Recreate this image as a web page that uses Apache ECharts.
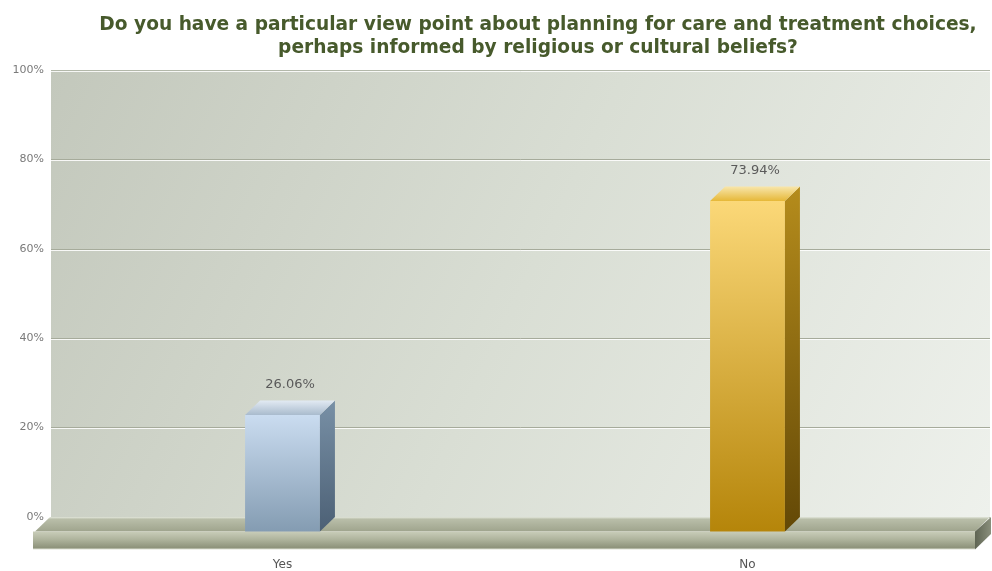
<!DOCTYPE html>
<html>
<head>
<meta charset="utf-8">
<script src="https://cdn.jsdelivr.net/npm/echarts@6/dist/echarts.min.js"></script>
<style>
  html, body { margin: 0; padding: 0; background: #ffffff; }
  #chart { width: 992px; height: 571px; }
</style>
</head>
<body>
<div id="chart"></div>
<script>
// Survey answers and their share of respondents (%)
const categories = ['Yes', 'No'];
const percentages = [26.06, 73.94];
const yTicks = [0, 20, 40, 60, 80, 100];

const titleText = 'Do you have a particular view point about planning for care and treatment choices,\nperhaps informed by religious or cultural beliefs?';

// Face colours for each bar: [front top, front bottom, side top, side bottom, top back, top front]
const barPalettes = [
  ['#cadcf0', '#849cb2', '#7890a6', '#4c6075', '#e2eaf3', '#a9bbcd'],
  ['#fbd878', '#b5850a', '#b58c1c', '#634806', '#f8e6ab', '#e6b838']
];

// Perspective depth of the 3D boxes (px)
const DEPTH_X = 15;
const DEPTH_Y = 14.5;

function vGrad(c0, c1) {
  return new echarts.graphic.LinearGradient(0, 0, 0, 1, [
    { offset: 0, color: c0 }, { offset: 1, color: c1 }
  ]);
}

function renderBox(params, api) {
  const idx = params.dataIndex;
  const val = api.value(1);
  const top = api.coord([api.value(0), val]);
  const base = api.coord([api.value(0), 0]);
  const band = api.size([1, 0])[0];
  const w = band * 0.161;
  const x0 = top[0] - w / 2;
  const x1 = top[0] + w / 2;
  const yT = top[1];
  const yB = base[1];
  const p = barPalettes[idx % barPalettes.length];
  return {
    type: 'group',
    children: [
      { // front face
        type: 'rect',
        shape: { x: x0, y: yT, width: w, height: yB - yT },
        style: { fill: vGrad(p[0], p[1]) }
      },
      { // side face
        type: 'polygon',
        shape: { points: [[x1, yT], [x1 + DEPTH_X, yT - DEPTH_Y], [x1 + DEPTH_X, yB - DEPTH_Y], [x1, yB]] },
        style: { fill: vGrad(p[2], p[3]) }
      },
      { // top face
        type: 'polygon',
        shape: { points: [[x0, yT], [x0 + DEPTH_X, yT - DEPTH_Y], [x1 + DEPTH_X, yT - DEPTH_Y], [x1, yT]] },
        style: { fill: vGrad(p[4], p[5]) }
      },
      { // value label
        type: 'text',
        style: {
          x: top[0] + DEPTH_X / 2,
          y: yT - DEPTH_Y - 9,
          text: val.toFixed(2) + '%',
          fill: '#5a5a5a',
          font: '13px "DejaVu Sans"',
          align: 'center',
          verticalAlign: 'bottom'
        }
      }
    ]
  };
}

const chart = echarts.init(document.getElementById('chart'), null, { renderer: 'canvas' });

const option = {
  backgroundColor: '#ffffff',
  animation: false,
  title: {
    text: titleText,
    left: 533,
    top: 9,
    textAlign: 'center',
    textStyle: {
      fontFamily: 'DejaVu Sans',
      fontWeight: 'bold',
      fontSize: 18.6,
      lineHeight: 23,
      color: '#475a2c'
    }
  },
  grid: [
    { // back wall
      left: 51, right: 2, top: 70, bottom: 54,
      show: true, borderWidth: 0,
      backgroundColor: new echarts.graphic.LinearGradient(0, 0, 1, 1, [
        { offset: 0, color: '#c3c8bc' },
        { offset: 0.5, color: '#d9ded4' },
        { offset: 1, color: '#eef1ec' }
      ])
    },
    { // front plane where the boxes stand
      left: 50, right: 12, top: 84.5, bottom: 39.5
    }
  ],
  xAxis: [
    {
      gridIndex: 0, type: 'category', data: categories,
      show: false
    },
    {
      gridIndex: 1, type: 'category', data: categories,
      axisLine: { show: false }, axisTick: { show: false },
      axisLabel: { margin: 27, color: '#555555', fontFamily: 'DejaVu Sans', fontSize: 12 }
    }
  ],
  yAxis: [
    {
      gridIndex: 0, type: 'value', min: 0, max: 100, interval: 20,
      axisLine: { show: false }, axisTick: { show: false },
      axisLabel: {
        margin: 7, color: '#7a7a7a', fontFamily: 'DejaVu Sans', fontSize: 11,
        formatter: v => (yTicks.indexOf(v) >= 0 ? v + '%' : '')
      },
      splitLine: {
        show: true,
        lineStyle: {
          color: '#a6ab9b', width: 1,
          shadowColor: 'rgba(255,255,255,0.85)', shadowOffsetY: 1, shadowBlur: 0
        }
      }
    },
    {
      gridIndex: 1, type: 'value', min: 0, max: 100, show: false
    }
  ],
  graphic: [
    { // floor top
      type: 'polygon', silent: true, z: 1,
      shape: { points: [[50, 517], [990, 517], [975, 531.5], [35, 531.5]] },
      style: {
        fill: new echarts.graphic.LinearGradient(0, 0, 0, 1, [
          { offset: 0, color: '#e2e6db' },
          { offset: 0.15, color: '#b9bea9' },
          { offset: 1, color: '#9fa48d' }
        ])
      }
    },
    { // floor front
      type: 'rect', silent: true, z: 1,
      shape: { x: 33, y: 531.5, width: 942, height: 18 },
      style: {
        fill: new echarts.graphic.LinearGradient(0, 0, 0, 1, [
          { offset: 0, color: '#c9cdb9' },
          { offset: 0.45, color: '#aeb39c' },
          { offset: 0.9, color: '#8e937b' },
          { offset: 1, color: '#dfe2d6' }
        ])
      }
    },
    { // floor right side
      type: 'polygon', silent: true, z: 1,
      shape: { points: [[975, 531.5], [991, 517], [991, 534], [975, 549.5]] },
      style: {
        fill: new echarts.graphic.LinearGradient(0, 0, 1, 0, [
          { offset: 0, color: '#5f6553' },
          { offset: 1, color: '#8a8f7c' }
        ])
      }
    },
    { // top edge of the wall
      type: 'line', silent: true, z: 2,
      shape: { x1: 51, y1: 70.5, x2: 990, y2: 70.5 },
      style: { stroke: '#b3b8aa', lineWidth: 1 }
    }
  ],
  series: [
    {
      type: 'custom',
      xAxisIndex: 1,
      yAxisIndex: 1,
      z: 5,
      renderItem: renderBox,
      data: categories.map((c, i) => [i, percentages[i]])
    }
  ]
};

chart.setOption(option);
</script>
</body>
</html>
